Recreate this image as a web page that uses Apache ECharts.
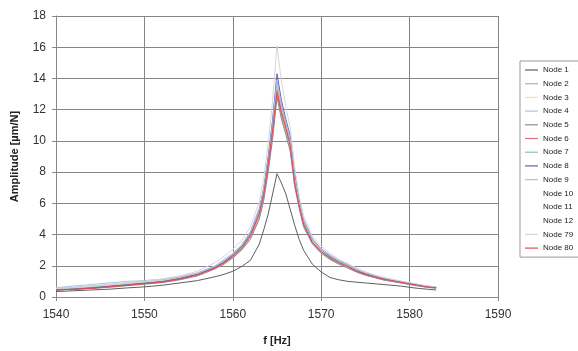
<!DOCTYPE html>
<html>
<head>
<meta charset="utf-8">
<script src="https://cdn.jsdelivr.net/npm/echarts@6/dist/echarts.min.js"></script>
<style>
  html, body { margin: 0; padding: 0; background: #fff; }
  #chart { width: 578px; height: 351px; }
</style>
</head>
<body>
<div id="chart"></div>
<script>
// frequency axis [Hz]
const freq = [1540, 1542, 1544, 1546, 1548, 1550, 1552, 1554, 1556, 1558, 1559, 1560, 1561, 1562, 1563, 1563.5,
  1564, 1564.5, 1565, 1565.5, 1566, 1566.5, 1567, 1567.5, 1568, 1569, 1570, 1571, 1572, 1573, 1574, 1575,
  1576, 1577, 1578, 1579, 1580, 1581, 1582, 1583];

// amplitude [µm/N] per node
const node1 = [0.35,0.4,0.45,0.5,0.58,0.65,0.75,0.9,1.05,1.3,1.45,1.65,1.95,2.35,3.4,4.3,5.3,6.6,7.9,7.3,6.6,5.6,4.6,3.7,3.0,2.1,1.6,1.25,1.1,1.0,0.95,0.9,0.85,0.8,0.75,0.7,0.62,0.55,0.5,0.45];
const node2 = [0.5,0.55,0.6,0.7,0.8,0.9,1.0,1.2,1.45,1.9,2.2,2.55,3.05,3.8,5.1,6.3,8.2,10.3,13.0,11.6,10.6,9.5,7.2,5.8,4.6,3.45,2.85,2.45,2.15,1.9,1.6,1.4,1.25,1.1,1.0,0.9,0.8,0.72,0.62,0.58];
const node3 = [0.55,0.6,0.65,0.75,0.85,0.95,1.05,1.25,1.5,1.95,2.3,2.7,3.2,4.0,5.4,6.7,8.6,10.9,13.6,12.1,11.0,9.9,7.5,6.0,4.8,3.6,3.0,2.6,2.25,2.0,1.7,1.5,1.35,1.2,1.08,0.98,0.88,0.78,0.68,0.62];
const node4 = [0.6,0.7,0.8,0.9,1.0,1.05,1.15,1.3,1.55,2.0,2.4,2.8,3.35,4.2,5.7,7.0,9.0,11.3,14.0,12.4,11.2,10.1,7.8,6.2,5.0,3.75,3.1,2.7,2.35,2.1,1.8,1.6,1.4,1.25,1.12,1.0,0.9,0.8,0.7,0.65];
const node5 = [0.45,0.5,0.55,0.62,0.72,0.82,0.92,1.1,1.35,1.8,2.1,2.5,3.0,3.7,5.0,6.2,8.0,10.1,12.8,11.4,10.4,9.3,7.1,5.7,4.5,3.4,2.8,2.4,2.1,1.85,1.6,1.4,1.25,1.1,1.0,0.9,0.8,0.7,0.62,0.56];
const node6 = [0.45,0.5,0.55,0.65,0.75,0.85,0.95,1.15,1.4,1.85,2.15,2.6,3.1,3.9,5.3,6.5,8.4,10.6,13.3,11.9,10.9,9.8,7.4,5.9,4.7,3.5,2.9,2.5,2.2,1.95,1.65,1.45,1.3,1.15,1.05,0.95,0.85,0.75,0.65,0.6];
const node7 = [0.5,0.55,0.62,0.7,0.8,0.9,1.0,1.2,1.45,1.9,2.25,2.65,3.15,4.0,5.4,6.7,8.7,11.0,13.8,12.2,11.1,10.0,7.6,6.0,4.8,3.6,3.0,2.55,2.25,2.0,1.7,1.5,1.32,1.18,1.06,0.96,0.86,0.76,0.66,0.6];
const node8 = [0.45,0.5,0.58,0.68,0.78,0.88,0.98,1.18,1.45,1.9,2.25,2.7,3.25,4.1,5.6,6.9,8.9,11.3,14.3,12.6,11.4,10.3,7.9,6.2,4.9,3.7,3.05,2.6,2.3,2.05,1.72,1.5,1.35,1.2,1.08,0.98,0.86,0.76,0.66,0.6];
const node9 = [0.55,0.62,0.7,0.8,0.9,1.0,1.1,1.28,1.52,1.98,2.35,2.75,3.3,4.15,5.6,6.9,8.8,11.1,13.9,12.3,11.2,10.1,7.7,6.1,4.9,3.7,3.05,2.65,2.3,2.05,1.75,1.55,1.38,1.22,1.1,1.0,0.9,0.8,0.7,0.64];
const node10 = [0.5,0.55,0.6,0.7,0.8,0.9,1.0,1.2,1.45,1.9,2.2,2.6,3.1,3.9,5.3,6.5,8.4,10.7,13.2,11.8,10.8,9.7,7.4,5.9,4.7,3.5,2.9,2.5,2.2,1.95,1.65,1.45,1.3,1.15,1.05,0.95,0.85,0.75,0.65,0.6];
const node11 = [0.48,0.53,0.6,0.68,0.78,0.88,0.98,1.16,1.42,1.86,2.18,2.58,3.05,3.85,5.2,6.4,8.3,10.4,12.9,11.6,10.6,9.5,7.2,5.8,4.6,3.45,2.85,2.45,2.15,1.9,1.62,1.42,1.28,1.12,1.02,0.92,0.82,0.72,0.64,0.58];
const node12 = [0.52,0.58,0.64,0.72,0.82,0.92,1.02,1.22,1.48,1.92,2.26,2.66,3.16,4.0,5.45,6.7,8.6,10.9,13.4,12.0,11.0,9.9,7.5,6.0,4.8,3.6,2.95,2.55,2.25,2.0,1.7,1.48,1.32,1.18,1.07,0.97,0.87,0.77,0.67,0.61];
const node79 = [0.55,0.6,0.7,0.8,0.9,1.0,1.15,1.35,1.65,2.2,2.6,3.05,3.6,4.5,6.1,7.6,9.8,12.6,16.1,13.8,12.2,10.8,8.3,6.5,5.2,3.9,3.25,2.8,2.4,2.15,1.85,1.6,1.42,1.26,1.14,1.02,0.9,0.8,0.7,0.65];
const node80 = [0.45,0.5,0.56,0.66,0.76,0.86,0.96,1.15,1.42,1.88,2.2,2.62,3.12,3.95,5.35,6.6,8.5,10.7,13.1,11.8,10.8,9.7,7.3,5.85,4.65,3.5,2.9,2.5,2.2,1.95,1.65,1.45,1.3,1.15,1.05,0.95,0.85,0.75,0.65,0.6];

const names = ['Node 1', 'Node 2', 'Node 3', 'Node 4', 'Node 5', 'Node 6', 'Node 7', 'Node 8', 'Node 9',
  'Node 10', 'Node 11', 'Node 12', 'Node 79', 'Node 80'];
const values = [node1, node2, node3, node4, node5, node6, node7, node8, node9, node10, node11, node12, node79, node80];
const colors = ['#5e5e5e', '#b4b49a', '#f2e58a', '#a8c4ea', '#8c8c8c', '#e07080', '#88c8a8', '#5868b0', '#b8b8e8',
  '#ffffff', '#ffffff', '#ffffff', '#d6d6d6', '#e04a5a'];

const chart = echarts.init(document.getElementById('chart'), null, { renderer: 'canvas' });

const series = names.map((name, i) => ({
  name,
  type: 'line',
  data: freq.map((f, j) => [f, values[i][j]]),
  showSymbol: false,
  symbol: 'none',
  z: colors[i] === '#ffffff' ? 1 : 2,
  lineStyle: { width: 1, color: colors[i] },
  itemStyle: { color: colors[i] },
  animation: false
}));

chart.setOption({
  backgroundColor: '#fff',
  textStyle: { fontFamily: 'Liberation Sans, Arial, sans-serif' },
  grid: { left: 56, right: 80, top: 16, bottom: 52 },
  legend: {
    orient: 'vertical',
    left: 520,
    top: 61,
    padding: [4, 30, 4, 5],
    borderColor: '#999',
    borderWidth: 1,
    itemWidth: 13,
    itemHeight: 1.2,
    itemGap: 3.7,
    icon: 'rect',
    textStyle: { fontSize: 8, lineHeight: 10, color: '#222' },
    data: names
  },
  xAxis: {
    type: 'value',
    min: 1540, max: 1590, interval: 10,
    name: 'f [Hz]',
    nameLocation: 'middle',
    nameGap: 38,
    nameTextStyle: { fontWeight: 'bold', fontSize: 11, color: '#222' },
    axisLine: { lineStyle: { color: '#888' } },
    axisTick: { show: true, length: 4, lineStyle: { color: '#888' } },
    axisLabel: { fontSize: 12, color: '#333', margin: 12, formatter: (v) => String(v) },
    splitLine: { show: true, lineStyle: { color: '#858585', width: 1 } }
  },
  yAxis: {
    type: 'value',
    min: 0, max: 18, interval: 2,
    name: 'Amplitude [µm/N]',
    nameLocation: 'middle',
    nameGap: 36,
    nameTextStyle: { fontWeight: 'bold', fontSize: 11, color: '#222' },
    axisLine: { show: true, lineStyle: { color: '#888' } },
    axisTick: { show: true, length: 4, lineStyle: { color: '#888' } },
    axisLabel: { fontSize: 12, color: '#333', margin: 10 },
    splitLine: { show: true, lineStyle: { color: '#858585', width: 1 } }
  },
  series
});
</script>
</body>
</html>
